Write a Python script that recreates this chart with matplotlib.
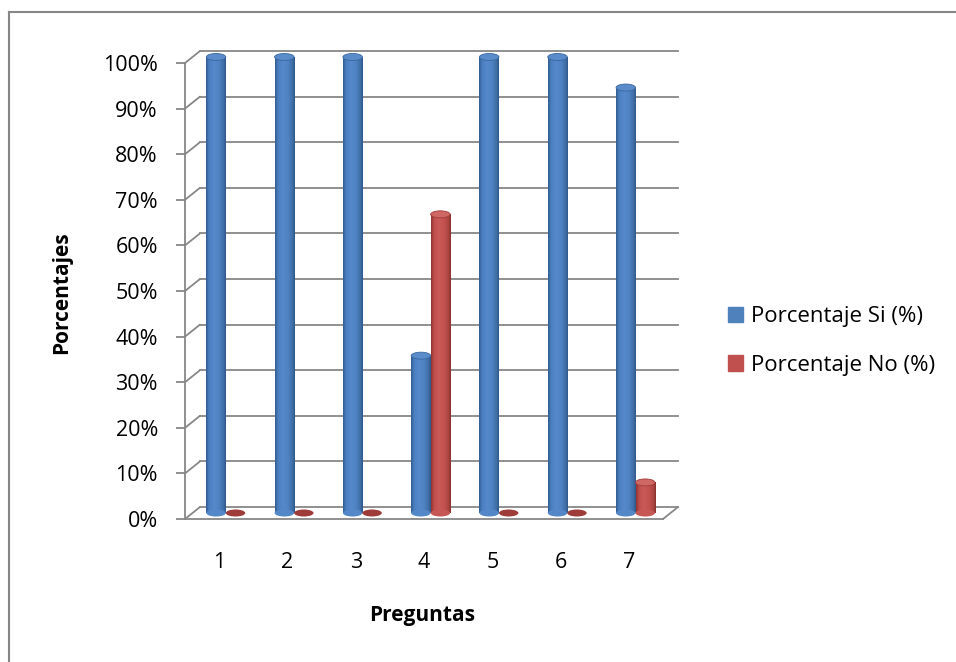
import numpy as np
import matplotlib
matplotlib.use('Agg')
import matplotlib.pyplot as plt
from matplotlib.transforms import offset_copy
from matplotlib.patches import Ellipse, Patch, ConnectionPatch
from matplotlib.lines import Line2D
from matplotlib.colors import LinearSegmentedColormap

preguntas = [1, 2, 3, 4, 5, 6, 7]
porcentaje_si = [1.0, 1.0, 1.0, 0.345, 1.0, 1.0, 0.933]
porcentaje_no = [0.0, 0.0, 0.0, 0.655, 0.0, 0.0, 0.067]
y_ticks = [0.0, 0.1, 0.2, 0.3, 0.4, 0.5, 0.6, 0.7, 0.8, 0.9, 1.0]
y_labels = ['0%', '10%', '20%', '30%', '40%', '50%', '60%', '70%', '80%', '90%', '100%']
series_names = ['Porcentaje Si (%)', 'Porcentaje No (%)']

plt.rcParams['font.family'] = ['Open Sans', 'DejaVu Sans']

W, H = 956, 662
grey = '#878787'
fig = plt.figure(figsize=(W / 100, H / 100), dpi=100)
ax = fig.add_axes([185 / W, (H - 519) / H, (663 - 185) / W, (519 - 63) / H])
ax.patch.set_visible(False)

# fake 3d: back wall and bar plane are shifted copies of the data transform
back = offset_copy(ax.transData, fig=fig, x=15, y=12, units='dots')
mid = offset_copy(ax.transData, fig=fig, x=7.5, y=6, units='dots')

for v in y_ticks:
    ax.plot([0.5, 7.5], [v, v], transform=back, color=grey, lw=1.3, clip_on=False, zorder=1)
    ax.add_artist(ConnectionPatch((0.5, v), (0.5, v), coordsA=ax.transData, coordsB=back,
                                  color=grey, lw=1.3, zorder=1))
ax.add_artist(ConnectionPatch((7.5, 0), (7.5, 0), coordsA=ax.transData, coordsB=back,
                              color=grey, lw=1.3, zorder=1))

blue_cm = LinearSegmentedColormap.from_list('b', [(0, '#315c90'), (0.15, '#4a7fc0'), (0.4, '#5589cb'),
                                                  (0.65, '#4f83c3'), (0.88, '#416fa8'), (1, '#30588a')])
red_cm = LinearSegmentedColormap.from_list('r', [(0, '#8e3330'), (0.15, '#bf4f4c'), (0.4, '#c95a57'),
                                                 (0.65, '#c4524f'), (0.88, '#aa4542'), (1, '#8a302d')])
grad = np.linspace(0, 1, 64).reshape(1, -1)
bw = 0.285
eh = 7 / 456


def cylinder(x, v, cmap, top_col, edge_col):
    if v <= 0:
        ax.add_patch(Ellipse((x, 0), bw, eh, transform=mid, facecolor=edge_col, lw=0, zorder=3))
        return
    rect = ax.bar(x, v, bw, transform=mid, color=cmap(0.5), lw=0, zorder=3, clip_on=False)[0]
    im = ax.imshow(grad, cmap=cmap, extent=[x - bw / 2, x + bw / 2, 0, v], transform=mid,
                   aspect='auto', interpolation='bilinear', zorder=3)
    im.set_clip_path(rect)
    ax.add_patch(Ellipse((x, 0), bw, eh, transform=mid, facecolor=cmap(0.5), lw=0, zorder=3, clip_on=False))
    ax.add_patch(Ellipse((x, v), bw, eh, transform=mid, facecolor=top_col, edgecolor=edge_col,
                         lw=0.6, zorder=4, clip_on=False))


for x, s, n in zip(preguntas, porcentaje_si, porcentaje_no):
    cylinder(x - 0.155, s, blue_cm, '#5a8ccc', '#3a679e')
    cylinder(x + 0.13, n, red_cm, '#cf6764', '#9e3c39')

ax.set_xlim(0.5, 7.5)
ax.set_ylim(0, 1)
for s in ['top', 'right']:
    ax.spines[s].set_visible(False)
for s in ['left', 'bottom']:
    ax.spines[s].set_color(grey)
    ax.spines[s].set_linewidth(1.3)
ax.set_yticks(y_ticks)
ax.set_yticklabels(y_labels)
ax.set_xticks(preguntas)
ax.set_xticklabels([str(p) for p in preguntas])
ax.tick_params(axis='y', length=6.5, width=1.3, color=grey, pad=13, labelsize=15.5)
ax.tick_params(axis='x', length=0, pad=24, labelsize=15.5)

fig.text(62 / W, (H - 293) / H, 'Porcentajes', rotation=90, ha='center', va='center',
         fontsize=15, fontweight='bold')
fig.text(422 / W, (H - 615) / H, 'Preguntas', ha='center', va='center',
         fontsize=15, fontweight='bold')

handles = [Patch(color='#4F81BD'), Patch(color='#C0504D')]
fig.legend(handles, series_names, loc='center left', bbox_to_anchor=(728 / W, (H - 341) / H),
           frameon=False, fontsize=16, handlelength=0.68, handleheight=0.68,
           handletextpad=0.35, labelspacing=1.25, borderpad=0, borderaxespad=0)

fig.add_artist(Line2D([9 / W, 1], [(H - 12) / H] * 2, transform=fig.transFigure, color='#868686', lw=1.5))
fig.add_artist(Line2D([9 / W] * 2, [0, (H - 12) / H], transform=fig.transFigure, color='#868686', lw=1.5))

fig.savefig('out.png', dpi=100)
